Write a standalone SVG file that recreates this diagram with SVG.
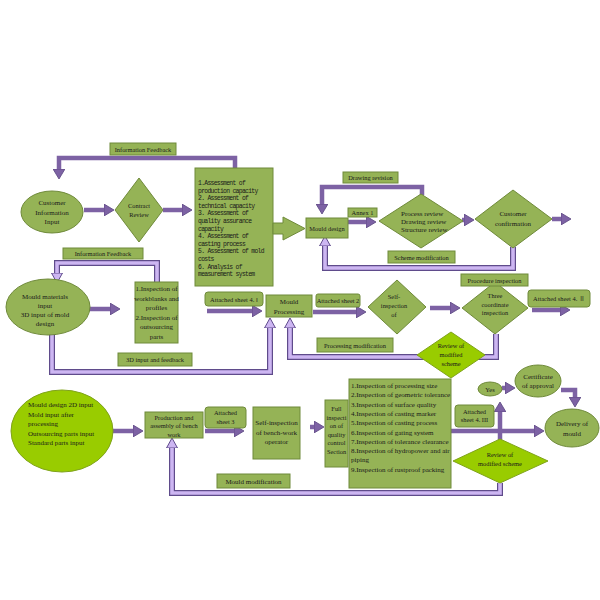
<svg xmlns="http://www.w3.org/2000/svg" xmlns:xlink="http://www.w3.org/1999/xlink" width="600" height="600" viewBox="0 0 600 600">
<style>
.bx{fill:#95b356;stroke:#6f8a3a;stroke-width:1}
.br{fill:#99cc00;stroke:#7fa31a;stroke-width:1}
.t{font-family:"Liberation Serif","Times New Roman",serif;font-size:7px;fill:#1a1a1a}
.s{font-size:6.4px}
.m{font-family:"Liberation Mono","DejaVu Sans Mono",monospace;font-size:6.4px;letter-spacing:-0.7px;fill:#1a1a1a}
.c{text-anchor:middle}
.dk{fill:none;stroke:#7d62a4;stroke-width:4.5}
.dko{fill:none;stroke:#5a4580;stroke-width:6}
.lo{fill:none;stroke:#5f4b8b;stroke-width:6}
.li{fill:none;stroke:#cdb6f2;stroke-width:3.6}
</style>
<defs>
<marker id="ah" markerUnits="userSpaceOnUse" markerWidth="12" markerHeight="12" refX="2" refY="6" orient="auto" viewBox="0 0 12 12">
<path d="M0,0 L10,6 L0,12 z" fill="#7d62a4" stroke="#5a4580" stroke-width="0.8"/>
</marker>
<marker id="al" markerUnits="userSpaceOnUse" markerWidth="12" markerHeight="12" refX="2" refY="6" orient="auto" viewBox="0 0 12 12">
<path d="M0,0.5 L10,6 L0,11.5 z" fill="#cdb6f2" stroke="#5f4b8b" stroke-width="1"/>
</marker>
<path id="p-scheme" d="M513,247 V268 H325 V244"/>
<path id="p-info2" d="M157,282 V263 H57 V275"/>
<path id="p-3d" d="M52,334 V372 H270 V326"/>
<path id="p-proc" d="M496,334 V357 H290 V326"/>
<path id="p-mould" d="M500,483 V493 H172 V446"/>
</defs>

<g id="connectors">
<!-- light purple feedback lines -->
<use xlink:href="#p-scheme" class="lo"/><use xlink:href="#p-scheme" class="li" marker-end="url(#al)"/>
<use xlink:href="#p-info2" class="lo"/><use xlink:href="#p-info2" class="li" marker-end="url(#al)"/>
<use xlink:href="#p-3d" class="lo"/><use xlink:href="#p-3d" class="li" marker-end="url(#al)"/>
<use xlink:href="#p-proc" class="lo"/><use xlink:href="#p-proc" class="li" marker-end="url(#al)"/>
<use xlink:href="#p-mould" class="lo"/><use xlink:href="#p-mould" class="li" marker-end="url(#al)"/>
<!-- dark purple arrows -->
<path class="dk" d="M235,168 V158 H59 V171" marker-end="url(#ah)"/>
<path class="dk" d="M84,210 H106" marker-end="url(#ah)"/>
<path class="dk" d="M163,210 H184" marker-end="url(#ah)"/>
<path class="dk" d="M422,195 V187 H322 V206" marker-end="url(#ah)"/>
<path class="dk" d="M348,222 H368" marker-end="url(#ah)"/>
<path class="dk" d="M462,220 H466" marker-end="url(#ah)"/>
<path class="dk" d="M552,219 H563" stroke-width="3" marker-end="url(#ah)"/>
<path class="dk" d="M495,283 V274" stroke-width="2"/>
<path class="dk" d="M207,311 H254" marker-end="url(#ah)"/>
<path class="dk" d="M313,312 H358" marker-end="url(#ah)"/>
<path class="dk" d="M430,308 H452" marker-end="url(#ah)"/>
<path class="dk" d="M532,310 H562" marker-end="url(#ah)"/>
<path class="dk" d="M88,309 H112" marker-end="url(#ah)"/>
<path class="dk" d="M113,431 H135" marker-end="url(#ah)"/>
<path class="dk" d="M205,431 H236" marker-end="url(#ah)"/>
<path class="dk" d="M310,427 H316" marker-end="url(#ah)"/>
<path class="dk" d="M451,431 H536" marker-end="url(#ah)"/>
<path class="dk" d="M500,440 V410" marker-end="url(#ah)"/>
<path class="dk" d="M502,388 H507" marker-end="url(#ah)"/>
<path class="dk" d="M561,390 H575 V399" marker-end="url(#ah)"/>
</g>

<g id="label-info1"><rect class="bx" x="110" y="143" width="66" height="12"/><text class="t s c" x="143" y="151.5">Information Feedback</text></g>

<g id="customer"><ellipse class="bx" cx="52" cy="212" rx="31" ry="21"/>
<text class="t c" x="52" y="205">Customer</text><text class="t c" x="52" y="214.5">Information</text><text class="t c" x="52" y="224">Input</text></g>

<g id="contract"><polygon class="bx" points="139,178 163,210 139,242 115,210"/>
<text class="t s c" x="139" y="208">Contract</text><text class="t s c" x="139" y="217">Review</text></g>

<g id="assessment"><rect class="bx" x="195" y="168" width="78" height="118"/>
<text class="m" x="198" y="185">1.Assessment of</text>
<text class="m" x="198" y="192.6">production capacity</text>
<text class="m" x="198" y="200.2">2. Assessment of</text>
<text class="m" x="198" y="207.8">technical capacity</text>
<text class="m" x="198" y="215.4">3. Assessment of</text>
<text class="m" x="198" y="223">quality assurance</text>
<text class="m" x="198" y="230.6">capacity</text>
<text class="m" x="198" y="238.2">4. Assessment of</text>
<text class="m" x="198" y="245.8">casting process</text>
<text class="m" x="198" y="253.4">5. Assessment of mold</text>
<text class="m" x="198" y="261">costs</text>
<text class="m" x="198" y="268.6">6. Analysis of</text>
<text class="m" x="198" y="276.2">measurement system</text></g>

<g id="block-arrow"><polygon class="bx" points="273,223 283,223 283,217 305,228.5 283,240 283,234 273,234"/></g>

<g id="mould-design"><rect class="bx" x="306" y="218" width="42" height="20"/><text class="t s c" x="327" y="230.5">Mould design</text></g>

<g id="label-drawing"><rect class="bx" x="343" y="172" width="55" height="11"/><text class="t s c" x="370.5" y="180">Drawing revision</text></g>

<g id="label-annex"><rect class="bx" x="348" y="208" width="29" height="9"/><text class="t s c" x="362.5" y="215">Annex 1</text></g>

<g id="review"><polygon class="bx" points="421,194 463,221 421,248 379,221"/>
<text class="t" x="401" y="216" font-size="6.2">Process review</text>
<text class="t" x="401" y="224" font-size="6.2">Drawing review</text>
<text class="t" x="401" y="232" font-size="6.2">Structure review</text></g>

<g id="confirm"><polygon class="bx" points="513,190 552,219 513,248 475,219"/>
<text class="t c" x="513" y="216">Customer</text><text class="t c" x="513" y="225.5">confirmation</text></g>

<g id="label-scheme"><rect class="bx" x="388" y="251" width="67" height="12"/><text class="t s c" x="421.5" y="259.5">Scheme modification</text></g>

<g id="three"><polygon class="bx" points="495,282 528,308 495,334 462,308"/>
<text class="t s c" x="495" y="298">Three</text><text class="t s c" x="495" y="306.5">coordinate</text><text class="t s c" x="495" y="315">inspection</text></g>

<g id="label-procedure"><rect class="bx" x="461" y="274" width="67" height="12"/><text class="t s c" x="494.5" y="282.5">Procedure inspection</text></g>

<g id="label-att42"><rect class="bx" x="528" y="290" width="62" height="17" rx="3"/><text class="t s c" x="559" y="301">Attached sheet 4. <tspan font-family="Noto Sans CJK SC,sans-serif" font-size="6">Ⅱ</tspan></text></g>

<g id="self-insp"><polygon class="bx" points="397,280 426,307 397,334 368,307"/>
<text class="t s c" x="394" y="299">Self-</text><text class="t s c" x="394" y="308">inspection</text><text class="t s c" x="394" y="317">of</text></g>

<g id="label-att2"><rect class="bx" x="316" y="294" width="44" height="13" rx="2"/><text class="t s c" x="338" y="303">Attached sheet 2</text></g>

<g id="processing"><rect class="bx" x="266" y="295" width="46" height="22"/>
<text class="t c" x="289" y="304">Mould</text><text class="t c" x="289" y="313.5">Processing</text></g>

<g id="label-att41"><rect class="bx" x="205" y="292" width="58" height="14" rx="3"/><text class="t s c" x="234" y="301.5">Attached sheet 4. Ⅰ</text></g>

<g id="label-procmod"><rect class="bx" x="317" y="338" width="76" height="14"/><text class="t s c" x="355" y="347.5">Processing modification</text></g>

<g id="review-upper"><polygon class="br" points="451,332 485,355 451,378 417,355"/>
<text class="t s c" x="451" y="348">Review of</text><text class="t s c" x="451" y="357">modified</text><text class="t s c" x="451" y="366">scheme</text></g>

<g id="materials"><ellipse class="bx" cx="48" cy="307" rx="42" ry="28"/>
<text class="t c" x="45" y="299">Mould materials</text><text class="t c" x="45" y="308">input</text><text class="t c" x="45" y="317">3D input of mold</text><text class="t c" x="45" y="326">design</text></g>

<g id="label-info2"><rect class="bx" x="63" y="248" width="80" height="11"/><text class="t s c" x="103" y="256">Information Feedback</text></g>

<g id="insp-box"><rect class="bx" x="135" y="282" width="43" height="61"/>
<text class="t c" x="156.5" y="291">1.Inspection of</text><text class="t c" x="156.5" y="300.5">workblanks and</text><text class="t c" x="156.5" y="310">profiles</text><text class="t c" x="156.5" y="319.5">2.Inspection of</text><text class="t c" x="156.5" y="329">outsourcing</text><text class="t c" x="156.5" y="338.5">parts</text></g>

<g id="label-3d"><rect class="bx" x="118" y="353" width="74" height="13"/><text class="t s c" x="155" y="362">3D input and feedback</text></g>

<g id="inputs"><ellipse class="br" cx="62" cy="431" rx="51" ry="41"/>
<text class="t" x="28" y="407">Mould design 2D input</text><text class="t" x="28" y="416.5">Mold input after</text><text class="t" x="28" y="426">processing</text><text class="t" x="28" y="435.5">Outsourcing parts input</text><text class="t" x="28" y="445">Standard parts input</text></g>

<g id="production"><rect class="bx" x="145" y="412" width="58" height="26"/>
<text class="t s c" x="174" y="419.5">Production and</text><text class="t s c" x="174" y="428">assembly of bench</text><text class="t s c" x="174" y="436.5">work</text></g>

<g id="label-att3"><rect class="bx" x="205" y="407" width="41" height="21" rx="3"/><text class="t s c" x="225.5" y="415">Attached</text><text class="t s c" x="225.5" y="424">sheet 3</text></g>

<g id="bench"><rect class="bx" x="253" y="407" width="47" height="52"/>
<text class="t c" x="276.5" y="425">Self-inspection</text><text class="t c" x="276.5" y="434.5">of bench-work</text><text class="t c" x="276.5" y="444">operator</text></g>

<g id="full"><rect class="bx" x="325" y="400" width="23" height="67"/>
<text class="t s c" x="336.5" y="411">Full</text><text class="t s c" x="336.5" y="419.5">inspecti</text><text class="t s c" x="336.5" y="428">on of</text><text class="t s c" x="336.5" y="436.5">quality</text><text class="t s c" x="336.5" y="445">control</text><text class="t s c" x="336.5" y="453.5">Section</text></g>

<g id="insp-list"><rect class="bx" x="349" y="379" width="102" height="109"/>
<text class="t" x="351" y="388">1.Inspection of processing size</text>
<text class="t" x="351" y="397.3">2.Inspection of geometric tolerance</text>
<text class="t" x="351" y="406.6">3.Inspection of surface quality</text>
<text class="t" x="351" y="415.9">4.Inspection of casting marker</text>
<text class="t" x="351" y="425.2">5.Inspection of casting process</text>
<text class="t" x="351" y="434.5">6.Inspection of gating system</text>
<text class="t" x="351" y="443.8">7.Inspection of tolerance clearance</text>
<text class="t" x="351" y="453.1">8.Inspection of hydropower and air</text>
<text class="t" x="351" y="462.4">piping</text>
<text class="t" x="351" y="471.7">9.Inspection of rustproof packing</text></g>

<g id="label-mouldmod"><rect class="bx" x="217" y="474" width="73" height="14"/><text class="t c" x="253.5" y="483.5">Mould modification</text></g>

<g id="review-lower"><polygon class="br" points="500,439 548,461 500,483 453,461"/>
<text class="t s c" x="500" y="457">Review of</text><text class="t s c" x="500" y="465.5">modified scheme</text></g>

<g id="yes"><ellipse class="bx" cx="490" cy="389" rx="12" ry="7"/><text class="t s c" x="490" y="391.5">Yes</text></g>

<g id="certificate"><ellipse class="bx" cx="538" cy="381" rx="23" ry="16"/>
<text class="t c" x="538" y="379" font-size="5.6">Certificate</text><text class="t c" x="538" y="388" font-size="5.6">of  approval</text></g>

<g id="delivery"><ellipse class="bx" cx="572" cy="428" rx="27" ry="19"/>
<text class="t c" x="572" y="426">Delivery of</text><text class="t c" x="572" y="436">mould</text></g>

<g id="label-att43"><rect class="bx" x="455" y="405" width="39" height="22" rx="3"/><text class="t s c" x="474.5" y="413.5">Attached</text><text class="t s c" x="474.5" y="422">sheet 4. III</text></g>
</svg>
